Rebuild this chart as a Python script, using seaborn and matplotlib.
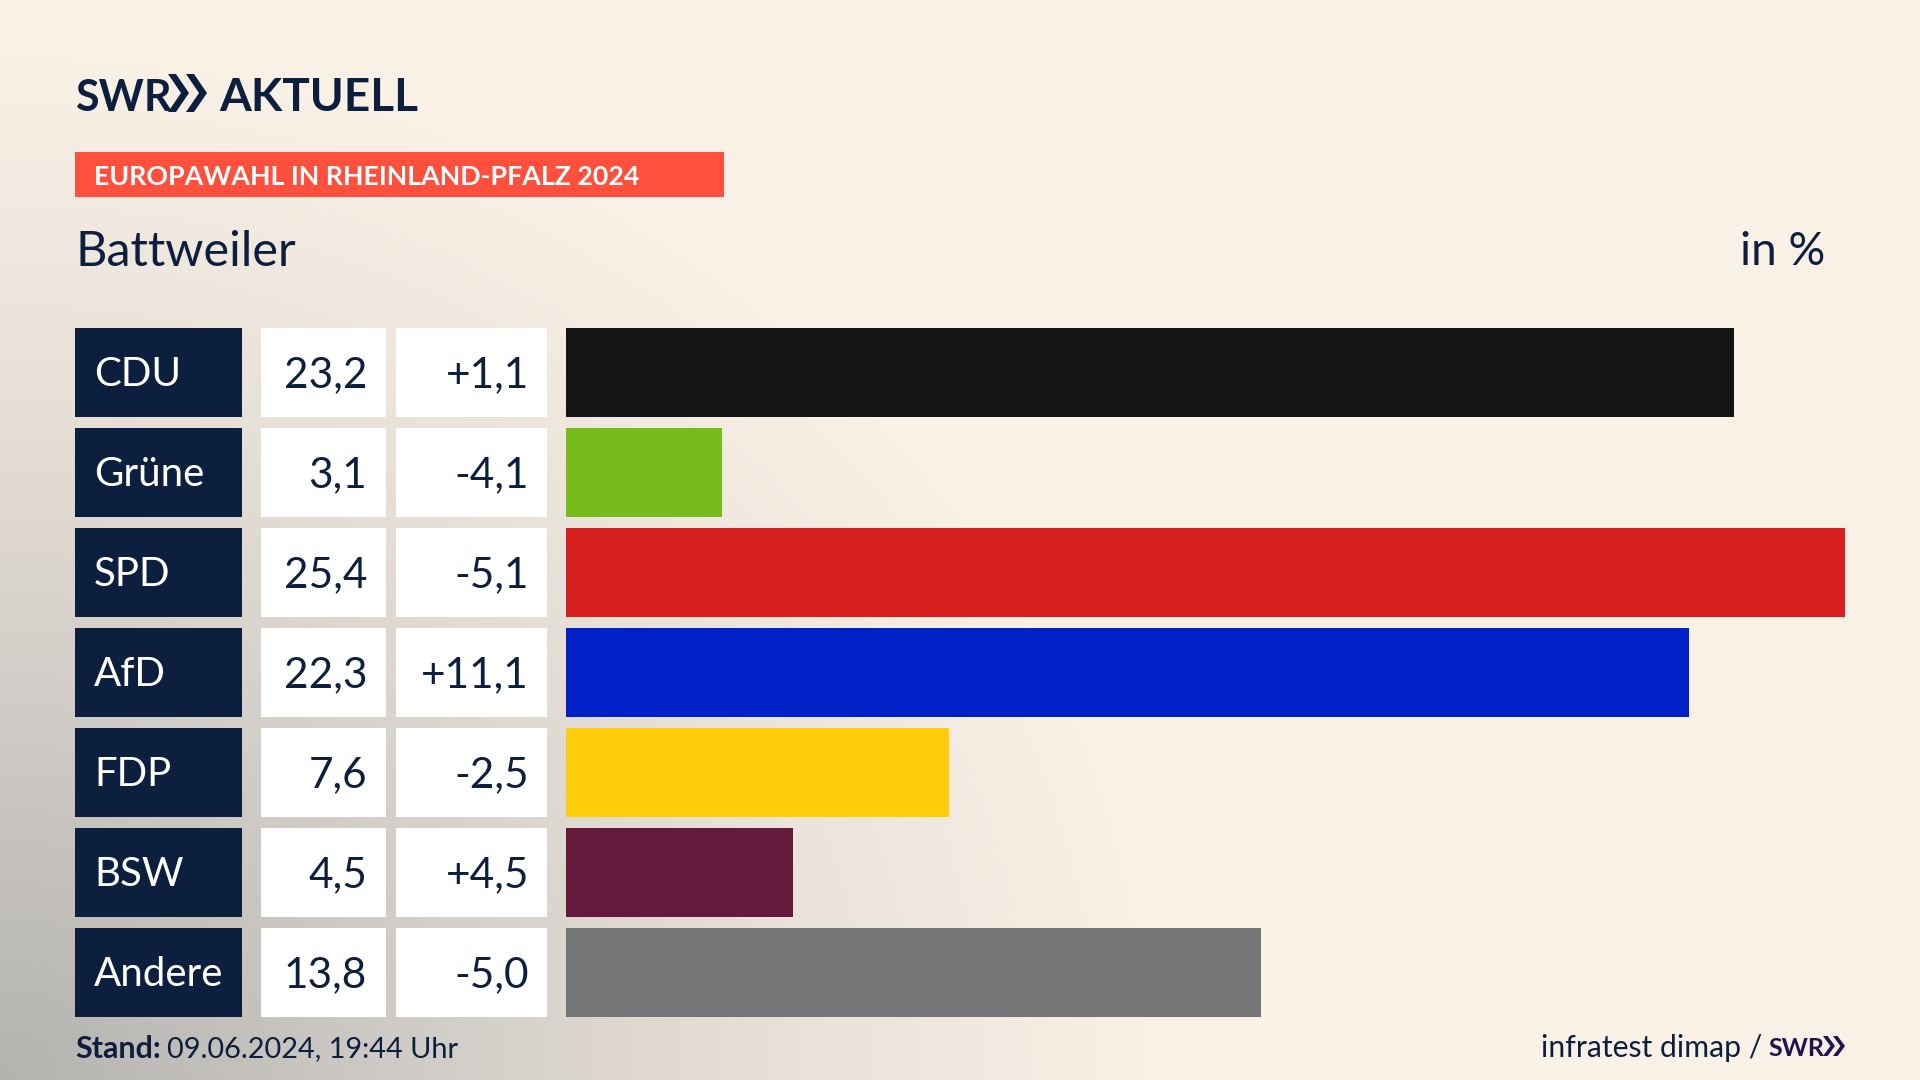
import numpy as np
import pandas as pd
import matplotlib
matplotlib.use('Agg')
import matplotlib.pyplot as plt
from matplotlib.colors import LinearSegmentedColormap
from matplotlib.patches import Rectangle, Polygon
import seaborn as sns

parties = ['CDU', 'Grüne', 'SPD', 'AfD', 'FDP', 'BSW', 'Andere']
shares = [23.2, 3.1, 25.4, 22.3, 7.6, 4.5, 13.8]
changes = ['+1,1', '-4,1', '-5,1', '+11,1', '-2,5', '+4,5', '-5,0']
share_labels = ['23,2', '3,1', '25,4', '22,3', '7,6', '4,5', '13,8']
colors = ['#141414', '#78BC1B', '#D71F1D', '#0020C8', '#FFCD0B', '#65193C', '#737577']

NAVY = '#0C1F3F'
sns.set_theme(style='white')
plt.rcParams['font.family'] = ['Lato', 'DejaVu Sans']

fig = plt.figure(figsize=(19.2, 10.8), dpi=100)

# background: cream with grey corner bottom left
bg = fig.add_axes([0, 0, 1, 1], zorder=0)
xx, yy = np.meshgrid(np.linspace(0, 1, 480), np.linspace(0, 1, 270))
d = np.clip(np.sqrt((xx / 0.6) ** 2 + (yy / 0.95) ** 2), 0, 1)
cmap = LinearSegmentedColormap.from_list('bg', [(0, '#B4B3B0'), (0.35, '#CFCBC6'), (0.7, '#E9E2D9'), (1, '#FAF1E6')])
bg.imshow(d, cmap=cmap, origin='lower', extent=[0, 1920, 0, 1080], aspect='auto', vmin=0, vmax=1)
bg.axis('off')

# bars
ax = fig.add_axes([566 / 1920, 1 - 1022.5 / 1080, (1845 - 566) / 1920, 700 / 1080], zorder=1)
ax.patch.set_alpha(0)
df = pd.DataFrame({'party': parties, 'share': shares})
sns.barplot(data=df, y='party', x='share', hue='party', palette=colors, width=0.885, legend=False,
            saturation=1, linewidth=0, edgecolor='none', ax=ax)
ax.set_xlim(0, 25.4)
ax.set_ylim(6.5, -0.5)
ax.axis('off')

# table cells and texts in pixel coordinates
ov = fig.add_axes([0, 0, 1, 1], zorder=2)
ov.set_xlim(0, 1920)
ov.set_ylim(1080, 0)
ov.axis('off')
ov.patch.set_alpha(0)

for i, party in enumerate(parties):
    top = 328 + i * 100
    mid = top + 43.5
    ov.add_patch(Rectangle((75, top), 167, 89, color=NAVY, lw=0))
    ov.add_patch(Rectangle((261, top), 125, 89, color='white', lw=0))
    ov.add_patch(Rectangle((396, top), 151, 89, color='white', lw=0))
    ov.text(94, mid, party, color='white', fontsize=29, va='center_baseline')
    ov.text(367, mid, share_labels[i], color=NAVY, fontsize=30.5, ha='right', va='center_baseline')
    ov.text(529, mid, changes[i], color=NAVY, fontsize=30.5, ha='right', va='center_baseline')


def chevrons(x, y0, y1, w, gap, color):
    t = w * 0.38
    for k in range(2):
        x0 = x + k * gap
        m = (y0 + y1) / 2
        ov.add_patch(Polygon([(x0, y0), (x0 + t, y0), (x0 + w, m), (x0 + t, y1), (x0, y1), (x0 + w - t, m)], color=color, lw=0))


# logo
ov.text(75, 111, 'SWR', color=NAVY, fontsize=31, fontweight='bold', va='baseline')
chevrons(168, 74, 112, 21, 18, NAVY)
ov.text(219, 111, 'AKTUELL', color=NAVY, fontsize=33, fontweight='bold', va='baseline')

# header
ov.add_patch(Rectangle((75, 152), 649, 45, color='#FF4F3D', lw=0))
ov.text(94, 175, 'EUROPAWAHL IN RHEINLAND-PFALZ 2024', color='white', fontsize=19.3, fontweight='bold', va='center_baseline')
ov.text(76, 248, 'Battweiler', color=NAVY, fontsize=35, va='center_baseline')
ov.text(1825, 248, 'in %', color=NAVY, fontsize=33, ha='right', va='center_baseline')

# footer
ov.text(75, 1047, 'Stand:', color=NAVY, fontsize=22, fontweight='bold', va='center_baseline')
ov.text(167, 1047, '09.06.2024, 19:44 Uhr', color=NAVY, fontsize=20.8, va='center_baseline')
ov.text(1762, 1046, 'infratest dimap /', color=NAVY, fontsize=21.7, ha='right', va='center_baseline')
ov.text(1768, 1056, 'SWR', color='#24114F', fontsize=18, fontweight='bold', va='baseline')
chevrons(1823, 1036, 1056, 12, 10, '#24114F')

fig.savefig('out.png', dpi=100)
